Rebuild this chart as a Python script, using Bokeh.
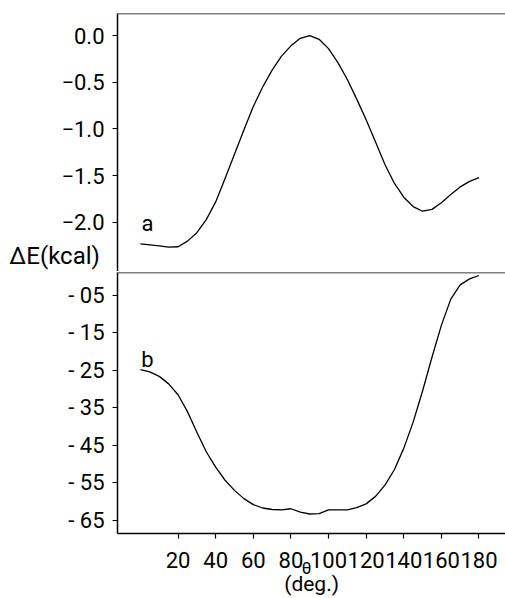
from bokeh.plotting import figure
from bokeh.layouts import column
from bokeh.models import Range1d, FixedTicker, Span, Label
from bokeh.core.properties import value
from bokeh.embed import file_html
from bokeh.resources import INLINE

# ---- data ----
theta_a = [0, 5, 10, 15, 20, 25, 30, 35, 40, 45, 50, 55, 60, 65, 70, 75, 80, 85, 90,
           95, 100, 105, 110, 115, 120, 125, 130, 135, 140, 145, 150, 155, 160, 165,
           170, 175, 180]
energy_a = [-2.23, -2.24, -2.25, -2.265, -2.26, -2.20, -2.11, -1.97, -1.78, -1.53,
            -1.27, -1.01, -0.76, -0.55, -0.37, -0.22, -0.11, -0.03, 0.00, -0.04,
            -0.14, -0.29, -0.47, -0.68, -0.90, -1.14, -1.38, -1.58, -1.73, -1.83,
            -1.88, -1.86, -1.79, -1.70, -1.62, -1.56, -1.52]

theta_b = [0, 5, 10, 15, 20, 25, 30, 35, 40, 45, 50, 55, 60, 65, 70, 75, 80, 85, 90,
           95, 100, 105, 110, 115, 120, 125, 130, 135, 140, 145, 150, 155, 160, 165,
           170, 175, 180]
energy_b = [-24.8, -25.4, -26.6, -28.6, -31.5, -36.0, -41.5, -46.7, -50.8, -54.3,
            -57.0, -59.2, -60.8, -61.7, -62.1, -62.2, -61.9, -62.8, -63.3, -63.2,
            -62.2, -62.2, -62.2, -61.6, -60.6, -58.6, -55.6, -51.5, -45.8, -38.8,
            -30.5, -21.5, -13.0, -6.0, -2.2, -0.6, 0.3]

x_ticks = [20, 40, 60, 80, 100, 120, 140, 160, 180]
a_ticks = [0.0, -0.5, -1.0, -1.5, -2.0]
a_tick_labels = ["0.0", "\u22120.5", "\u22121.0", "\u22121.5", "\u22122.0"]
b_ticks = [-5, -15, -25, -35, -45, -55, -65]
b_tick_labels = ["- 05", "- 15", "- 25", "- 35", "- 45", "- 55", "- 65"]

FONT = "Roboto"
TICK_SIZE = "22px"

x_range = Range1d(-12.2, 194.1)


def style_y(p, ticks, labels):
    ax = p.yaxis[0]
    ax.ticker = FixedTicker(ticks=ticks)
    ax.major_label_overrides = {t: l for t, l in zip(ticks, labels)}
    ax.major_label_text_font = FONT
    ax.major_label_text_font_size = TICK_SIZE
    ax.major_label_text_color = "black"
    ax.axis_line_color = "black"
    ax.major_tick_line_color = "black"
    ax.major_tick_out = 5
    ax.major_tick_in = 0
    ax.minor_tick_line_color = None
    ax.axis_line_width = 1.5
    ax.major_tick_line_width = 1.2
    ax.major_label_standoff = 8


def free_text(p, x, y, txt, size, align="center"):
    p.text(x=[x], y=[y], text=[txt], text_font=value(FONT),
           text_font_size=value(size), text_align=align,
           text_baseline="middle", text_color="black", level="overlay")


# ---- top panel (a) ----
p1 = figure(width=505, height=271, x_range=x_range, y_range=Range1d(-2.525, 0.236),
            output_backend="svg", toolbar_location=None, x_axis_location=None,
            min_border_left=117, min_border_right=0, min_border_top=13,
            min_border_bottom=0)
p1.outline_line_color = None
p1.grid.visible = False
style_y(p1, a_ticks, a_tick_labels)
p1.line(theta_a, energy_a, line_color="black", line_width=1.3, line_join="round")
p1.add_layout(Span(location=p1.y_range.end, dimension="width",
                   line_color="black", line_width=1.5))
p1.add_layout(Label(x=3.7, y=-2.015, text="a", text_font=FONT,
                    text_font_size="22px", text_align="center",
                    text_baseline="middle", text_color="black"))
free_text(p1, -69.7, -2.36, "\u0394E(kcal)", "24px", align="left")

# ---- bottom panel (b) ----
p2 = figure(width=505, height=327, x_range=x_range, y_range=Range1d(-68.5, 1.1),
            output_backend="svg", toolbar_location=None,
            min_border_left=117, min_border_right=0, min_border_top=1,
            min_border_bottom=65)
p2.outline_line_color = None
p2.grid.visible = False
style_y(p2, b_ticks, b_tick_labels)
xa = p2.xaxis[0]
xa.ticker = FixedTicker(ticks=x_ticks)
xa.major_label_text_font = FONT
xa.major_label_text_font_size = TICK_SIZE
xa.major_label_text_color = "black"
xa.axis_line_color = "black"
xa.major_tick_line_color = "black"
xa.major_tick_out = 5
xa.major_tick_in = 0
xa.minor_tick_line_color = None
xa.axis_line_width = 1.5
xa.major_tick_line_width = 1.2
xa.major_label_standoff = 13

p2.line(theta_b, energy_b, line_color="black", line_width=1.3, line_join="round")
p2.add_layout(Span(location=p2.y_range.end, dimension="width",
                   line_color="black", line_width=1.5))
p2.add_layout(Label(x=3.7, y=-22.1, text="b", text_font=FONT,
                    text_font_size="22px", text_align="center",
                    text_baseline="middle", text_color="black"))
free_text(p2, 88.3, -77.8, "\u03b8", "17px")
free_text(p2, 91.0, -81.9, "(deg.)", "21px")

layout = column(p1, p2, spacing=0)
open("out.html", "w").write(file_html(layout, INLINE))
